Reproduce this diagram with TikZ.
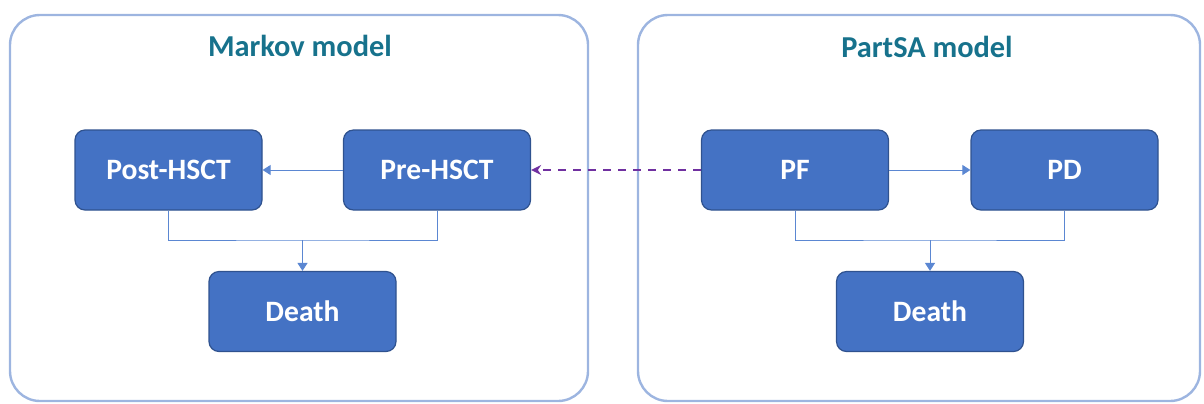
\documentclass[tikz,border=0pt]{standalone}
\usepackage{fontspec}
\setmainfont{Carlito}
\usetikzlibrary{arrows.meta}
\definecolor{boxfill}{HTML}{4472C4}
\definecolor{boxedge}{HTML}{2F528F}
\definecolor{framecol}{HTML}{9DB5E0}
\definecolor{linkcol}{HTML}{5B87D2}
\definecolor{titlecol}{HTML}{17728C}
\definecolor{dashcol}{HTML}{7030A0}
\tikzset{
  state/.style={draw=boxedge,fill=boxfill,rounded corners=5pt,line width=0.6pt,
    minimum width=93.5pt,minimum height=40pt,text=white,font=\bfseries\fontsize{14.8}{17}\selectfont},
  frame/.style={draw=framecol,line width=1.2pt,rounded corners=15pt},
  title/.style={text=titlecol,font=\bfseries\fontsize{15.2}{18}\selectfont},
  link/.style={draw=linkcol,line width=0.5pt},
}
\begin{document}
\begin{tikzpicture}[x=0.5pt,y=-0.5pt]
	\useasboundingbox (0,0) rectangle (1204,403);
	% the two model frames
	\draw[frame] (10,15) rectangle (588,401);
	\draw[frame] (638,15) rectangle (1200,401);
	\node[title] (mtitle) at (300,46) {Markov model};
	\node[title] (ptitle) at (927,47) {PartSA model};
	% Markov states
	\node[state] (post) at (168.5,170) {Post-HSCT};
	\node[state] (pre) at (437,170) {Pre-HSCT};
	\node[state] (mdeath) at (302.5,311.5) {Death};
	\coordinate (mj) at (302.5,240);
	\draw[link,-{Triangle[length=4pt,width=5pt]}] (pre.west) -- (post.east);
	\draw[link] (post.south) |- (mj) -| (pre.south);
	\draw[link,-{Triangle[length=4pt,width=5pt]}] (mj) -- (mdeath.north);
	% PartSA states
	\node[state] (pf) at (795,170) {PF};
	\node[state] (pd) at (1064.5,170) {PD};
	\node[state] (pdeath) at (930,311.5) {Death};
	\coordinate (pj) at (930,240);
	\draw[link,-{Triangle[length=4pt,width=5pt]}] (pf.east) -- (pd.west);
	\draw[link] (pf.south) |- (pj) -| (pd.south);
	\draw[link,-{Triangle[length=4pt,width=5pt]}] (pj) -- (pdeath.north);
	% link between models
	\draw[dashcol,line width=1.3pt,dash pattern=on 4pt off 3.5pt,-{Stealth[length=5pt,width=5pt]}] (pf.west) -- (pre.east);
\end{tikzpicture}
\end{document}
